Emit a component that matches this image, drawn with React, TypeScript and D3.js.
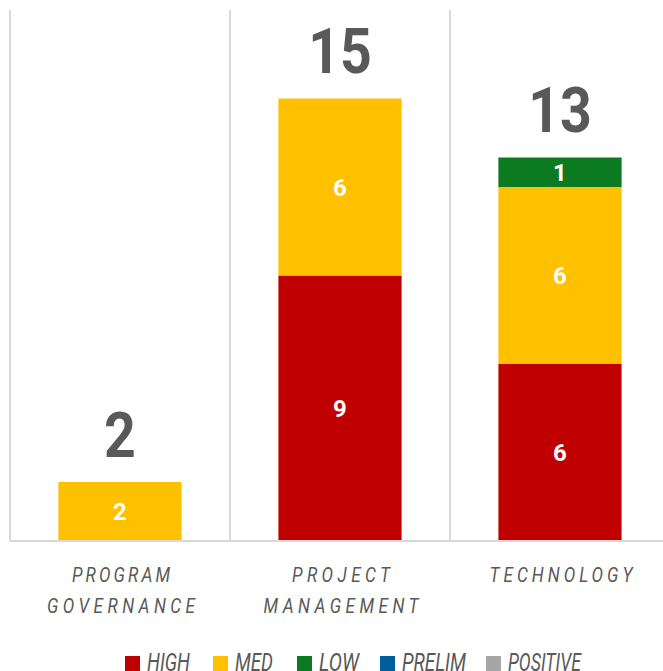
import React from "react";
import * as d3 from "d3";

const categories = ["PROGRAM GOVERNANCE", "PROJECT MANAGEMENT", "TECHNOLOGY"];
const categoryLines = [["PROGRAM", "GOVERNANCE"], ["PROJECT", "MANAGEMENT"], ["TECHNOLOGY"]];
const seriesNames = ["HIGH", "MED", "LOW", "PRELIM", "POSITIVE"];
const seriesColors = ["#C00000", "#FFC000", "#0B7A20", "#005F9B", "#A6A6A6"];
const highValues = [0, 9, 6];
const medValues = [2, 6, 6];
const lowValues = [0, 0, 1];
const prelimValues = [0, 0, 0];
const positiveValues = [0, 0, 0];

const W = 663;
const H = 671;

// approximate rendered widths of the condensed labels
const labelWidths: Record<string, number> = {
  PROGRAM: 98,
  GOVERNANCE: 148,
  PROJECT: 98,
  MANAGEMENT: 155,
  TECHNOLOGY: 143,
};
const legendWidths = [43, 38, 40, 64, 73];

export default function App() {
  const rows = categories.map((c, i) => ({
    category: c,
    HIGH: highValues[i],
    MED: medValues[i],
    LOW: lowValues[i],
    PRELIM: prelimValues[i],
    POSITIVE: positiveValues[i],
  }));
  const stack = d3.stack<any>().keys(seriesNames)(rows);
  const x = d3.scaleBand().domain(categories).range([10, 670]).paddingInner(0.44).paddingOuter(0.22);
  const y = d3.scaleLinear().domain([0, 18]).range([541, 10]);
  const step = x.step();
  const bw = x.bandwidth();
  const gap = (step - bw) / 2;
  const bounds = categories.map((c) => (x(c) as number) - gap);
  const color = d3.scaleOrdinal<string>().domain(seriesNames).range(seriesColors);
  const totals = rows.map((r) => seriesNames.reduce((s, k) => s + (r as any)[k], 0));
  const textGray = "#595959";
  const legendX = [125, 213, 297, 380, 486];
  const sx = 0.82;

  return (
    <svg width={W} height={H} style={{ position: "absolute", left: 0, top: 0 }} fontFamily="Roboto, sans-serif">
      <rect width={W} height={H} fill="#fff" />
      {bounds.map((b, i) => (
        <line key={i} x1={b} x2={b} y1={y(18)} y2={y(0)} stroke="#D9D9D9" strokeWidth={2} />
      ))}
      {stack.map((s) =>
        s.map((d, i) => {
          const v = d[1] - d[0];
          if (v <= 0) return null;
          const cx = (x(categories[i]) as number) + bw / 2;
          return (
            <g key={s.key + i}>
              <rect x={x(categories[i])} y={y(d[1])} width={bw} height={y(d[0]) - y(d[1])} fill={color(s.key)} />
              <text x={cx} y={(y(d[0]) + y(d[1])) / 2} dy="0.36em" textAnchor="middle" fill="#fff" fontWeight={700} fontSize={24}>
                {v}
              </text>
            </g>
          );
        })
      )}
      <line x1={10} x2={W} y1={y(0)} y2={y(0)} stroke="#D9D9D9" strokeWidth={2} />
      {totals.map((t, i) => {
        const cx = (x(categories[i]) as number) + bw / 2;
        return (
          <text key={i} x={cx} y={y(t) - 25} textAnchor="middle" fill={textGray} fontWeight={700} fontSize={63} transform={`translate(${cx * 0.12},0) scale(0.88,1)`}>
            {t}
          </text>
        );
      })}
      {categoryLines.map((lines, i) =>
        lines.map((ln, j) => {
          const cx = (x(categories[i]) as number) + bw / 2 + 1;
          const w = labelWidths[ln];
          return (
            <g key={i + "-" + j} transform={`translate(${cx - w / 2},${582 + j * 31}) scale(${sx},1)`}>
              <text x={0} y={0} fill={textGray} fontStyle="italic" fontSize={21} fontWeight={400} textLength={w / sx} lengthAdjust="spacing">
                {ln}
              </text>
            </g>
          );
        })
      )}
      {seriesNames.map((n, i) => (
        <g key={n}>
          <rect x={legendX[i]} y={656} width={15} height={15} fill={seriesColors[i]} />
          <text x={legendX[i] + 22} y={671} fill={textGray} fontStyle="italic" fontSize={26} fontWeight={400} textLength={legendWidths[i]} lengthAdjust="spacingAndGlyphs">
            {n}
          </text>
        </g>
      ))}
    </svg>
  );
}
